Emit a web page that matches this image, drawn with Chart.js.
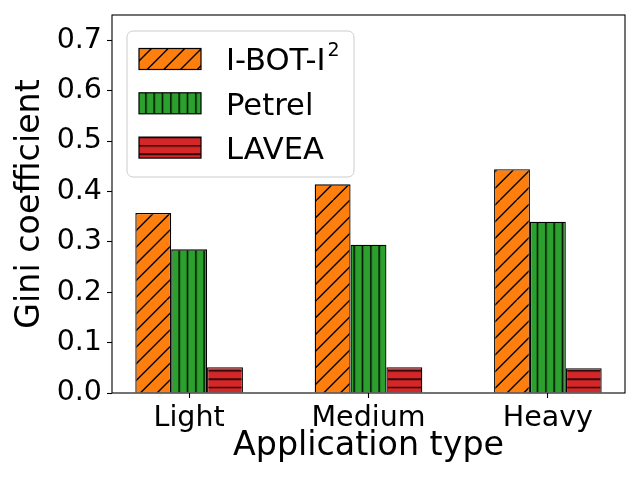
<!DOCTYPE html>
<html>
<head>
<meta charset="utf-8">
<script src="https://cdn.jsdelivr.net/npm/chart.js@4.4.0/dist/chart.umd.min.js"></script>
<style>
  html, body { margin: 0; padding: 0; background: #fff; }
  #chart { display: block; }
</style>
</head>
<body>
<canvas id="chart" width="640" height="480"></canvas>
<script>
const categories = ["Light", "Medium", "Heavy"];
const iBotValues = [0.357, 0.414, 0.444];
const petrelValues = [0.285, 0.294, 0.340];
const laveaValues = [0.051, 0.051, 0.049];
const yTicks = [0, 0.1, 0.2, 0.3, 0.4, 0.5, 0.6, 0.7];

const FONT = "'DejaVu Sans', sans-serif";

// matplotlib-like hatch fills, 100px tile
function makeHatch(color, kind) {
    const tile = document.createElement("canvas");
    tile.width = 100;
    tile.height = 100;
    const c = tile.getContext("2d");
    c.fillStyle = color;
    c.fillRect(0, 0, 100, 100);
    c.strokeStyle = "#000";
    c.lineWidth = 1.4;
    c.beginPath();
    if (kind === "/") {
        const s = 100 / 6;
        for (let k = -7; k <= 13; k++) {
            c.moveTo(k * s, 100);
            c.lineTo(k * s + 100, 0);
        }
    } else if (kind === "|") {
        const s = 100 / 12;
        for (let k = 0; k <= 12; k++) {
            c.moveTo(k * s, 0);
            c.lineTo(k * s, 100);
        }
    } else {
        const s = 100 / 12;
        for (let k = 0; k <= 12; k++) {
            c.moveTo(0, k * s);
            c.lineTo(100, k * s);
        }
    }
    c.stroke();
    const pattern = document.getElementById("chart").getContext("2d").createPattern(tile, "repeat");
    if (kind !== "/" && pattern.setTransform) {
        pattern.setTransform(new DOMMatrix().translate(4.2, 4.2));
    }
    return pattern;
}

const series = [
    { label: "I-BOT-I", sup: "2", data: iBotValues, fill: makeHatch("#ff7f0e", "/") },
    { label: "Petrel", sup: "", data: petrelValues, fill: makeHatch("#2ca02c", "|") },
    { label: "LAVEA", sup: "", data: laveaValues, fill: makeHatch("#d62728", "-") }
];

const frameAndLegend = {
    id: "frameAndLegend",
    afterDraw(chart) {
        const ctx = chart.ctx;
        const ca = chart.chartArea;
        ctx.save();
        // axes frame
        ctx.strokeStyle = "#000";
        ctx.lineWidth = 1.1;
        ctx.strokeRect(ca.left, ca.top, ca.right - ca.left, ca.bottom - ca.top);

        // legend box
        const lx = ca.left + 15, ly = ca.top + 16, lw = 227, lh = 146, r = 6;
        ctx.beginPath();
        ctx.roundRect(lx, ly, lw, lh, r);
        ctx.fillStyle = "rgba(255,255,255,0.8)";
        ctx.fill();
        ctx.strokeStyle = "#cccccc";
        ctx.lineWidth = 1;
        ctx.stroke();

        const fontSize = 30.6;
        chart.data.datasets.forEach((ds, i) => {
            const cy = ly + 28 + i * 44.3;
            const hx = lx + 12, hw = 62, hh = 21;
            ctx.fillStyle = ds.backgroundColor;
            ctx.fillRect(hx, cy - hh / 2, hw, hh);
            ctx.strokeStyle = "#000";
            ctx.lineWidth = 1.2;
            ctx.strokeRect(hx, cy - hh / 2, hw, hh);

            ctx.fillStyle = "#000";
            ctx.textBaseline = "alphabetic";
            ctx.textAlign = "left";
            ctx.font = fontSize + "px " + FONT;
            const tx = hx + hw + 25;
            const base = cy + 11.2;
            ctx.fillText(ds.label, tx, base);
            if (series[i].sup) {
                const w = ctx.measureText(ds.label).width;
                ctx.font = "19px " + FONT;
                ctx.fillText(series[i].sup, tx + w + 2, base - 14);
            }
        });
        ctx.restore();
    }
};

new Chart(document.getElementById("chart"), {
    type: "bar",
    data: {
        datasets: series.map(s => ({
            label: s.label,
            data: categories.map((c, i) => ({ x: i, y: s.data[i] })),
            backgroundColor: s.fill,
            borderColor: "#000",
            borderWidth: 1.3,
            categoryPercentage: 0.6,
            barPercentage: 1.0
        }))
    },
    options: {
        responsive: false,
        animation: false,
        devicePixelRatio: 1,
        layout: { padding: { top: 15, right: 15, left: 0, bottom: 0 } },
        plugins: {
            legend: { display: false },
            tooltip: { enabled: false }
        },
        scales: {
            x: {
                type: "linear",
                min: -0.43,
                max: 2.43,
                offset: false,
                afterBuildTicks: scale => {
                    scale.ticks = categories.map((c, i) => ({ value: i }));
                },
                afterFit: scale => {
                    scale.height = 87;
                    scale.paddingLeft = 0;
                    scale.paddingRight = 0;
                },
                grid: {
                    offset: false,
                    drawOnChartArea: false,
                    drawTicks: true,
                    tickLength: 5,
                    tickWidth: 1.1,
                    tickColor: "#000"
                },
                border: { display: false },
                ticks: {
                    autoSkip: false,
                    maxRotation: 0,
                    padding: 3,
                    color: "#000",
                    font: { family: FONT, size: 28.5 },
                    callback: v => categories[v]
                },
                title: {
                    display: true,
                    text: "Application type",
                    color: "#000",
                    font: { family: FONT, size: 33.3 },
                    padding: { top: 0, bottom: 14 }
                }
            },
            y: {
                min: 0,
                max: 0.75,
                afterBuildTicks: scale => {
                    scale.ticks = yTicks.map(v => ({ value: v }));
                },
                afterFit: scale => {
                    scale.width = 112;
                    scale.paddingTop = 0;
                    scale.paddingBottom = 0;
                },
                grid: {
                    drawOnChartArea: false,
                    drawTicks: true,
                    tickLength: 5,
                    tickWidth: 1.1,
                    tickColor: "#000"
                },
                border: { display: false },
                ticks: {
                    padding: 5,
                    color: "#000",
                    font: { family: FONT, size: 28.5 },
                    callback: v => v.toFixed(1)
                },
                title: {
                    display: true,
                    text: "Gini coefficient",
                    color: "#000",
                    font: { family: FONT, size: 33.3 },
                    padding: { top: 10, bottom: 0 }
                }
            }
        }
    },
    plugins: [frameAndLegend]
});
</script>
</body>
</html>
